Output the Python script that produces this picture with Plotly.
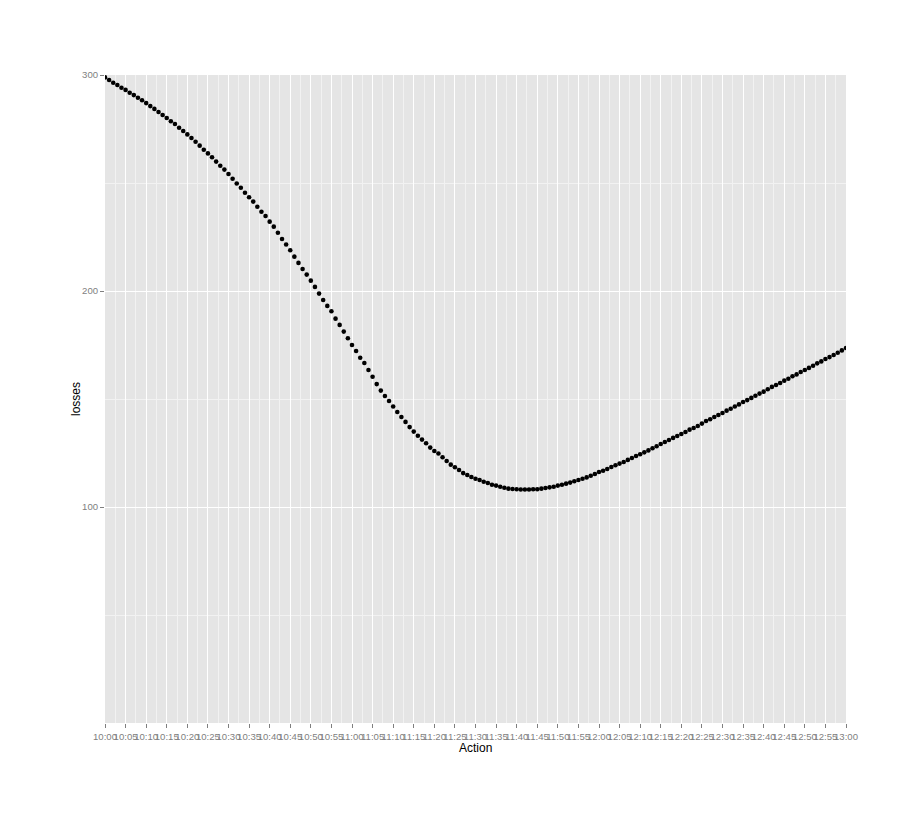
import plotly.graph_objects as go

# Loss values, one per minute from 10:00 to 13:00
losses_1000_1045 = [298.9, 297.7, 296.4, 295.4, 294.1, 293.1, 291.8, 290.7, 289.5, 288.3,
                    287.0, 285.6, 284.3, 282.9, 281.5, 280.1, 278.6, 277.3, 275.6, 274.1,
                    272.5, 270.8, 269.1, 267.3, 265.4, 263.7, 261.9, 259.9, 258.0, 256.2,
                    254.2, 252.0, 249.8, 247.8, 245.5, 243.4, 241.4, 239.0, 236.7, 234.7,
                    232.1, 229.8, 227.0, 224.1, 221.5, 218.9]
losses_1046_1114 = [215.9, 213.0, 210.2, 207.6, 204.8, 201.9, 198.8, 195.8, 193.1, 190.6,
                    187.2, 184.3, 181.2, 178.1, 175.0, 172.2, 169.1, 166.7, 163.4, 160.3,
                    156.9, 153.9, 151.4, 149.1, 146.5, 144.0, 141.7, 139.4, 137.0]
losses_1115_1157 = [134.9, 133.0, 131.2, 129.5, 127.5, 125.9, 124.8, 123.0, 121.3, 119.6,
                    118.4, 117.1, 115.7, 114.8, 113.9, 113.1, 112.5, 111.7, 111.1, 110.3,
                    109.9, 109.4, 108.9, 108.5, 108.3, 108.2, 108.1, 108.1, 108.1, 108.2,
                    108.2, 108.5, 108.8, 109.1, 109.4, 109.9, 110.3, 110.8, 111.3, 111.9,
                    112.5, 113.1, 113.7]
losses_1158_1300 = [114.5, 115.3, 116.2, 116.8, 117.6, 118.5, 119.3, 120.1, 120.8, 121.8,
                    122.7, 123.6, 124.4, 125.3, 126.2, 127.2, 128.1, 129.2, 130.1, 131.0,
                    132.0, 132.9, 133.8, 134.7, 135.8, 136.6, 137.5, 138.6, 139.8, 140.6,
                    141.7, 142.6, 143.5, 144.6, 145.5, 146.5, 147.5, 148.6, 149.5, 150.5,
                    151.5, 152.5, 153.4, 154.5, 155.6, 156.5, 157.4, 158.5, 159.4, 160.5,
                    161.4, 162.5, 163.4, 164.4, 165.4, 166.5, 167.4, 168.5, 169.4, 170.4,
                    171.4, 172.5, 173.6]

losses = losses_1000_1045 + losses_1046_1114 + losses_1115_1157 + losses_1158_1300

# one timestamp per minute, 10:00 .. 13:00
times = [f"2000-01-01 {10 + m // 60:02d}:{m % 60:02d}" for m in range(len(losses))]

y_ticks = [100, 200, 300]
y_minor = [50, 150, 250]

x_title = "Action"
y_title = "losses"

GREY = "#7F7F7F"
FONT = "Liberation Sans, Arial, Helvetica, sans-serif"

fig = go.Figure(
    go.Scatter(
        x=times, y=losses, mode="markers",
        marker=dict(color="black", size=4.6, line=dict(width=0)),
        showlegend=False,
    )
)

fig.update_layout(
    width=920, height=820,
    margin=dict(l=97, r=82, t=67, b=105),
    paper_bgcolor="white",
    plot_bgcolor="#E5E5E5",
    font=dict(family=FONT, color="black"),
    annotations=[
        dict(text=x_title, xref="paper", yref="paper", x=0.5, y=0,
             xanchor="center", yanchor="top", yshift=-16, showarrow=False,
             font=dict(size=12, color="black", family=FONT)),
        dict(text=y_title, xref="paper", yref="paper", x=0, y=0.5,
             xanchor="center", yanchor="middle", xshift=-29, textangle=-90,
             showarrow=False, font=dict(size=12, color="black", family=FONT)),
    ],
)

fig.update_xaxes(
    type="date",
    range=["2000-01-01 10:00", "2000-01-01 13:00"],
    tick0="2000-01-01 10:00", dtick=300000, tickformat="%H:%M",
    tickangle=0,
    ticks="outside", ticklen=4, tickcolor=GREY, tickwidth=1,
    tickfont=dict(size=9.6, color=GREY, family=FONT),
    showgrid=True, gridcolor="white", gridwidth=1.2,
    minor=dict(dtick=150000, tick0="2000-01-01 10:00", showgrid=True,
               gridcolor="#F2F2F2", gridwidth=0.6, ticks=""),
    zeroline=False, showline=False,
)

fig.update_yaxes(
    range=[0, 300],
    tickmode="array", tickvals=y_ticks, ticktext=[str(v) for v in y_ticks],
    ticks="outside", ticklen=4, tickcolor=GREY, tickwidth=1,
    tickfont=dict(size=9.6, color=GREY, family=FONT),
    showgrid=True, gridcolor="white", gridwidth=1.2,
    minor=dict(tickmode="array", tickvals=y_minor, showgrid=True,
               gridcolor="#F2F2F2", gridwidth=0.6, ticks=""),
    zeroline=False, showline=False,
)

fig.write_html("out.html")
